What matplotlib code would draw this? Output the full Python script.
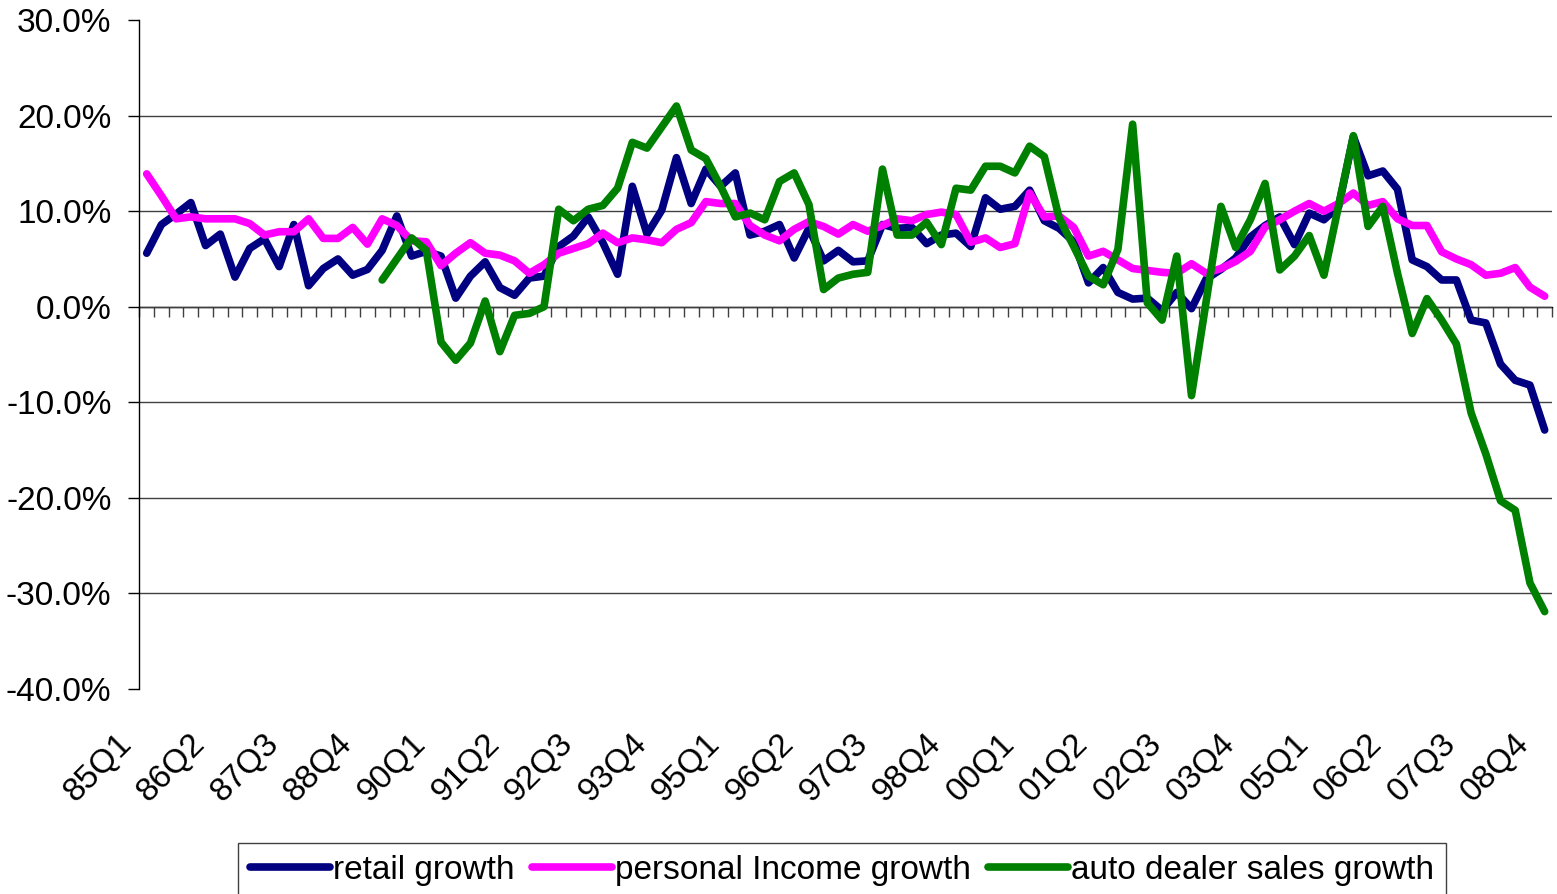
import numpy as np
import matplotlib.pyplot as plt
from matplotlib.ticker import FuncFormatter
from matplotlib.transforms import ScaledTranslation

plt.rcParams['font.family'] = ['Liberation Sans', 'DejaVu Sans']
plt.rcParams['axes.unicode_minus'] = False

# quarterly categories 85Q1 .. 08Q4
quarters = [f"{y % 100:02d}Q{q}" for y in range(1985, 2009) for q in range(1, 5)]

retail = [5.6, 8.6, 9.7, 10.9, 6.4, 7.6, 3.1, 6.1, 7.1, 4.2,
          8.6, 2.2, 4.0, 5.0, 3.3, 3.9, 5.9, 9.5, 5.3, 5.8,
          5.3, 0.9, 3.2, 4.7, 2.0, 1.2, 3.0, 3.2, 6.3, 7.4,
          9.4, 6.7, 3.4, 12.6, 7.6, 10.1, 15.6, 10.8, 14.4, 12.6,
          14.0, 7.5, 7.9, 8.6, 5.1, 8.2, 4.8, 5.9, 4.7, 4.8,
          8.6, 8.2, 8.3, 6.6, 7.5, 7.7, 6.3, 11.4, 10.2, 10.5,
          12.2, 9.0, 8.2, 6.8, 2.5, 4.1, 1.5, 0.8, 0.9, -0.4,
          1.5, -0.2, 2.9, 3.9, 5.1, 7.3, 8.5, 9.4, 6.5, 9.8,
          9.1, 10.5, 17.8, 13.7, 14.2, 12.3, 4.9, 4.2, 2.8, 2.8,
          -1.4, -1.7, -6.0, -7.7, -8.2, -12.9]

income = [13.9, 11.6, 9.2, 9.4, 9.2, 9.2, 9.2, 8.7, 7.5, 7.85,
          7.85, 9.2, 7.15, 7.15, 8.3, 6.55, 9.2, 8.5, 6.9, 6.8,
          4.3, 5.6, 6.7, 5.6, 5.4, 4.8, 3.5, 4.4, 5.6, 6.1,
          6.6, 7.7, 6.7, 7.2, 7.0, 6.7, 8.1, 8.8, 11.0, 10.8,
          10.8, 8.5, 7.5, 6.9, 8.1, 8.9, 8.4, 7.6, 8.6, 7.9,
          8.5, 9.2, 9.0, 9.65, 9.9, 9.65, 6.75, 7.2, 6.2, 6.6,
          11.9, 9.4, 9.5, 8.3, 5.3, 5.8, 4.9, 4.0, 3.8, 3.6,
          3.5, 4.5, 3.5, 4.0, 4.75, 5.8, 8.35, 9.1, 10.0, 10.8,
          10.0, 10.8, 11.9, 10.6, 11.0, 9.2, 8.5, 8.5, 5.75, 5.0,
          4.4, 3.3, 3.5, 4.1, 2.05, 1.1]

auto = [None] * 16 + [
          2.8, 5.0, 7.2, 5.9,
          -3.7, -5.6, -3.8, 0.6, -4.7, -0.9, -0.7, 0.0, 10.2, 9.0,
          10.2, 10.6, 12.4, 17.2, 16.6, 18.8, 21.0, 16.4, 15.5, 12.6,
          9.4, 9.8, 9.1, 13.1, 14.0, 10.7, 1.8, 3.0, 3.4, 3.6,
          14.4, 7.5, 7.5, 8.85, 6.5, 12.4, 12.2, 14.7, 14.7, 14.0,
          16.8, 15.7, 9.3, 6.3, 3.2, 2.3, 6.0, 19.1, 0.4, -1.4,
          5.3, -9.3, 0.6, 10.5, 6.2, 9.1, 12.9, 3.85, 5.3, 7.45,
          3.3, 10.6, 17.9, 8.4, 10.5, 3.5, -2.8, 0.85, -1.4, -3.9,
          -11.1, -15.4, -20.3, -21.3, -28.9, -31.9]

yticks = [-40, -30, -20, -10, 0, 10, 20, 30]

x = np.arange(len(quarters))
auto_arr = np.array(auto, dtype=float)

fig = plt.figure(figsize=(15.57, 8.94), dpi=100)
ax = fig.add_axes([0.0895, 0.2293, 0.9073, 0.7483])

for v in yticks[1:-1]:
    ax.axhline(v, color='#404040', lw=1, zorder=1)

style = dict(lw=5.5, solid_joinstyle='round', solid_capstyle='round', zorder=3)
ax.plot(x, retail, color='#000080', label='retail growth', **style)
ax.plot(x, income, color='#FF00FF', label='personal Income growth', **style)
ax.plot(x, auto_arr, color='#008000', label='auto dealer sales growth', **style)

ax.set_xlim(-0.5, len(quarters) - 0.5)
ax.set_ylim(yticks[0], yticks[-1])
ax.set_yticks(yticks)
ax.yaxis.set_major_formatter(FuncFormatter(lambda v, _: f"{v:.1f}%"))
ax.tick_params(axis='y', direction='out', length=8, width=1, pad=12,
               labelsize=24, color='black')

ax.set_xticks(x[::5])
ax.set_xticklabels(quarters[::5])
ax.tick_params(axis='x', length=0, pad=44, labelsize=24)
shift = ScaledTranslation(-0.09, 0, fig.dpi_scale_trans)
for lbl in ax.get_xticklabels():
    lbl.set_rotation(45)
    lbl.set_ha('right')
    lbl.set_va('bottom')
    lbl.set_rotation_mode('anchor')
    lbl.set_transform(lbl.get_transform() + shift)

for s in ['top', 'right', 'bottom']:
    ax.spines[s].set_visible(False)
ax.spines['left'].set_color('black')
ax.spines['left'].set_linewidth(1)

# category axis crossing at zero with tick marks between quarters
zero_pos = (0 - yticks[0]) / (yticks[-1] - yticks[0])
sec = ax.secondary_xaxis(zero_pos)
sec.set_alignment('bottom')
sec.set_xticks(np.arange(len(quarters) + 1) - 0.5)
sec.tick_params(axis='x', direction='out', length=7, width=1,
                color='#404040', labelbottom=False, labeltop=False)
sec.spines['bottom'].set_color('black')
sec.spines['bottom'].set_linewidth(1)

leg = fig.legend(loc='upper center', bbox_to_anchor=(842 / 1557, 1 - 843 / 894),
                 ncol=3, fontsize=24, handlelength=2.4, handletextpad=0.1,
                 columnspacing=0.5, borderpad=0.35, borderaxespad=0,
                 fancybox=False, edgecolor='#404040', framealpha=1)
leg.get_frame().set_linewidth(1)

fig.savefig('out.png', dpi=100)
